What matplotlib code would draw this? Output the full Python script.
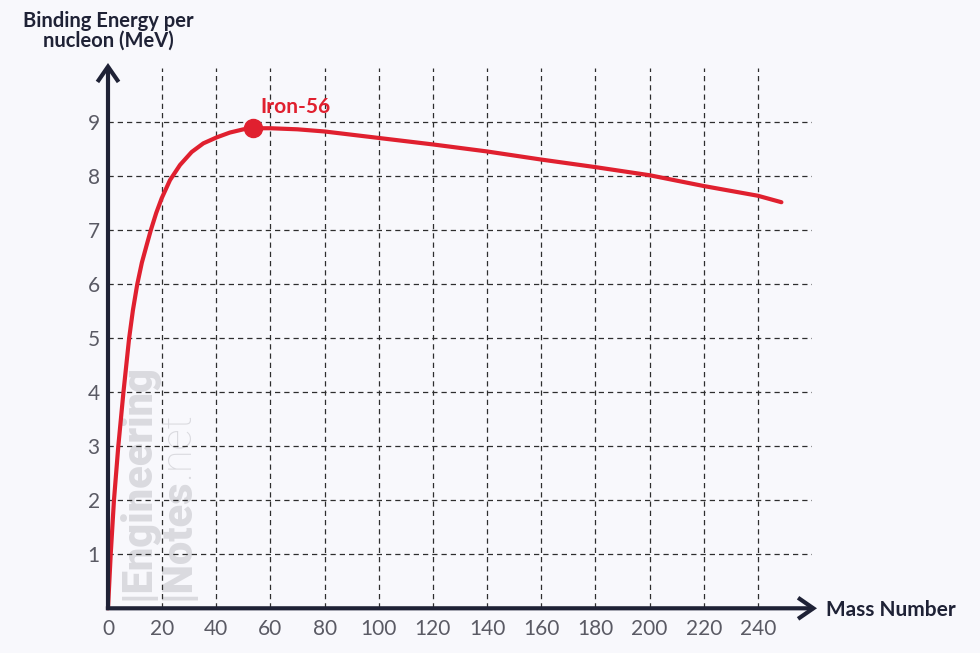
import matplotlib
matplotlib.use("Agg")
import matplotlib.pyplot as plt

# ---- data ----
mass_number = [0, 1.0, 2.2, 3.8, 5.7, 7.8, 9.2, 10.8, 12.5, 14.3, 15.8, 17.8, 19.8, 22.9,
               26.6, 30.9, 35.2, 40.1, 45.0, 50.0, 53.5, 60, 70, 80, 100, 120, 140,
               160, 180, 200, 220, 240, 248.7]
binding_energy = [0, 1.0, 2.0, 3.0, 4.0, 5.0, 5.52, 6.0, 6.4, 6.73, 7.0, 7.32, 7.59, 7.93,
                  8.21, 8.45, 8.61, 8.72, 8.81, 8.87, 8.89, 8.89, 8.87, 8.83, 8.71, 8.59, 8.46,
                  8.31, 8.17, 8.02, 7.82, 7.64, 7.52]
iron_label = "Iron-56"
iron_a = [53.5]
iron_be = [8.89]
x_ticks = list(range(0, 241, 20))
y_ticks = list(range(1, 10))

BG = "#f8f8fc"
NAVY = "#1f2236"
RED = "#e0202f"
TICKC = "#5a5a64"
WM = "#dadadf"
FONT = ["Lato", "DejaVu Sans"]
WMFONT = ["Roboto", "Lato", "DejaVu Sans"]

W, H = 980, 653
fig = plt.figure(figsize=(W / 100, H / 100), dpi=100, facecolor=BG)
x0, y0 = 108, 608.3
ax = fig.add_axes([x0 / W, (H - y0) / H, 704 / W, 540 / H])
ax.set_facecolor(BG)
ax.set_xlim(0, 260)
ax.set_ylim(0, 10)
for s in ax.spines.values():
    s.set_visible(False)

ax.set_xticks(x_ticks)
ax.set_yticks(y_ticks)
ax.tick_params(length=0, labelsize=15, labelcolor=TICKC)
ax.tick_params(axis="x", pad=8)
ax.tick_params(axis="y", pad=6)
for lab in ax.get_xticklabels() + ax.get_yticklabels():
    lab.set_family(FONT)
    lab.set_fontweight("normal")

ax.grid(True, linestyle=(0, (4.2, 3.2)), color="#2e2e2e", linewidth=0.9, zorder=0.5)
ax.set_axisbelow(True)

# watermark (inside the axes, beneath grid and curve)
wm_kw = dict(rotation=90, rotation_mode="anchor", ha="left", va="baseline",
             fontsize=30, color=WM, family=WMFONT, zorder=0.2,
             transform=fig.transFigure, clip_on=False)
ax.text(149 / W, (H - 600) / H, "|Engineering", fontweight="black", **wm_kw)
t2 = ax.text(189 / W, (H - 600) / H, "|Notes", fontweight="black", **wm_kw)
fig.canvas.draw()
bb = t2.get_window_extent()
ax.text(189 / W, (bb.y1 + 1) / H, ".net", fontweight="light", **wm_kw)

# curve
ax.plot(mass_number, binding_energy, color=RED, lw=3.0, solid_capstyle="round",
        solid_joinstyle="round", zorder=4, clip_on=False)
ax.plot(iron_a, iron_be, "o", color=RED, markersize=13, zorder=5, clip_on=False)
ax.text(iron_a[0] + 2.8, iron_be[0] + 0.2, iron_label, color=RED, fontsize=15,
        fontweight="bold", family=FONT, ha="left", va="bottom", zorder=6)

# axes with arrows
arrow = dict(arrowstyle="->,head_length=0.55,head_width=0.38", lw=3, color=NAVY,
             mutation_scale=20, shrinkA=0, shrinkB=0, joinstyle="miter", capstyle="butt")
ax.annotate("", xy=(709 / 704, 0), xytext=(-0.003, 0), xycoords="axes fraction",
            textcoords="axes fraction", arrowprops=arrow, zorder=7, annotation_clip=False)
ax.annotate("", xy=(0, 545.3 / 540), xytext=(0, -0.003), xycoords="axes fraction",
            textcoords="axes fraction", arrowprops=arrow, zorder=7, annotation_clip=False)

# axis titles
fig.text(108 / W, (H - 27) / H, "Binding Energy per", ha="center", va="baseline",
         fontsize=14.5, fontweight="bold", color=NAVY, family=FONT)
fig.text(108 / W, (H - 47) / H, "nucleon (MeV)", ha="center", va="baseline",
         fontsize=14.5, fontweight="bold", color=NAVY, family=FONT)
fig.text(826 / W, (H - 616) / H, "Mass Number", ha="left", va="baseline",
         fontsize=15, fontweight="bold", color=NAVY, family=FONT)

fig.savefig("out.png", dpi=100, facecolor=BG)
